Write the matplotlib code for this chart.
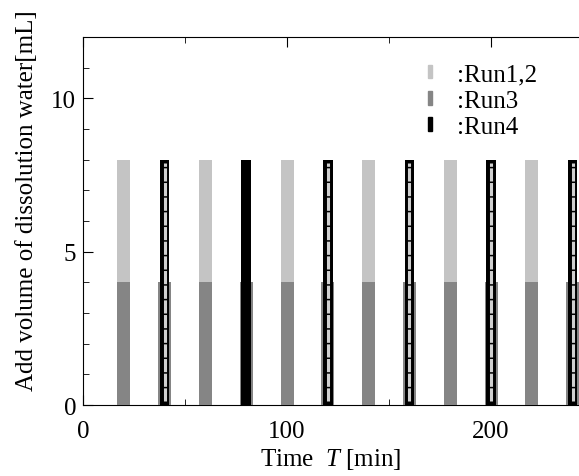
import numpy as np
import matplotlib.pyplot as plt
from matplotlib import font_manager as fm
from matplotlib.patches import Patch
from matplotlib.ticker import MultipleLocator

# make sure the Times-like serif is registered
for p in fm.findSystemFonts():
    if 'LiberationSerif' in p or 'Tinos' in p:
        fm.fontManager.addfont(p)
have = {f.name for f in fm.fontManager.ttflist}
serif = 'Liberation Serif' if 'Liberation Serif' in have else ('Tinos' if 'Tinos' in have else 'DejaVu Serif')
plt.rcParams['font.family'] = [serif, 'DejaVu Serif']
plt.rcParams['mathtext.fontset'] = 'custom'
plt.rcParams['mathtext.it'] = serif + ':italic'
plt.rcParams['mathtext.rm'] = serif

# data
t_run12 = [20, 60, 100, 140, 180, 220]
v_run12 = [8, 8, 8, 8, 8, 8]
t_run3 = [20, 40, 60, 80, 100, 120, 140, 160, 180, 200, 220, 240]
v_run3 = [4, 4, 4, 4, 4, 4, 4, 4, 4, 4, 4, 4]
t_run4 = [40, 80, 120, 160, 200, 240]
v_run4 = [8, 8, 8, 8, 8, 8]
run4_dashed = [True, False, True, True, True, True]

fig = plt.figure(figsize=(5.79, 4.77), dpi=100)
ax = fig.add_axes([0.1434, 0.1488, 0.8566, 0.7715])

ax.bar(t_run12, v_run12, width=6.4, color='#c4c4c4', zorder=2)
ax.bar(t_run3, v_run3, width=6.4, color='#858585', zorder=3)
ax.bar(t_run4, v_run4, width=4.7, color='black', zorder=4)
for t, v, d in zip(t_run4, v_run4, run4_dashed):
    if d:
        ax.plot([t, t], [0.12, v - 0.12], color='#d0d0d0', lw=2.2,
                dashes=(4.3, 0.5), zorder=5, solid_capstyle='butt')

ax.set_xlim(0, 243.1)
ax.set_ylim(0, 12)
ax.spines['right'].set_visible(False)
ax.xaxis.set_major_locator(MultipleLocator(100))
ax.xaxis.set_minor_locator(MultipleLocator(50))
ax.yaxis.set_major_locator(MultipleLocator(5))
ax.yaxis.set_minor_locator(MultipleLocator(1))
ax.tick_params(which='both', direction='in', top=True, right=False, labelsize=18)
ax.tick_params(which='major', length=7)
ax.tick_params(which='minor', length=4)
ax.tick_params(axis='x', pad=11)
ax.tick_params(axis='y', pad=5)

ax.set_xlabel('Time  $\\mathit{T}$ [min]', fontsize=18, labelpad=3)
ax.set_ylabel('Add volume of dissolution water[mL]', fontsize=18)
ax.yaxis.set_label_coords(-0.09, 0.557)

handles = [Patch(color='#c4c4c4'), Patch(color='#858585'), Patch(color='black')]
ax.legend(handles, [':Run1,2', ':Run3', ':Run4'], loc='upper left',
          bbox_to_anchor=(0.676, 0.955), frameon=False, fontsize=18,
          handlelength=0.15, handleheight=0.45, handletextpad=1.0,
          labelspacing=0.17, borderaxespad=0)

fig.savefig('out.png', dpi=100)
